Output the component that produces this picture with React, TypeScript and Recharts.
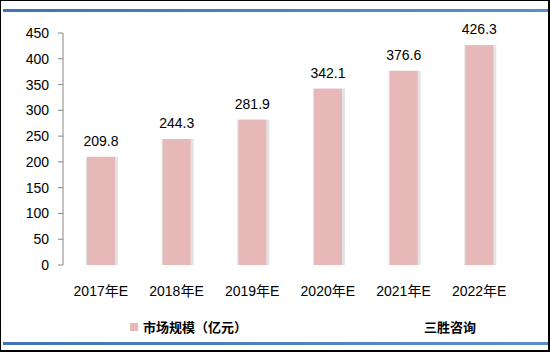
import React from 'react';
import { BarChart, Bar, XAxis, YAxis, LabelList } from 'recharts';

const categories = ['2017年E', '2018年E', '2019年E', '2020年E', '2021年E', '2022年E'];
const marketSize = [209.8, 244.3, 281.9, 342.1, 376.6, 426.3];
const yTicks = [0, 50, 100, 150, 200, 250, 300, 350, 400, 450];
const boundaryTicks = [0, 1, 2, 3, 4, 5, 6];
const seriesName = '市场规模（亿元）';
const sourceText = '三胜咨询';

const data = categories.map((c, i) => ({ name: c, value: marketSize[i] }));

const BAR_COLOR = '#E6B9B8';
const AXIS_COLOR = '#868686';
const NUM_FONT = '"Liberation Sans", "Noto Sans CJK SC", sans-serif';
const CJK_FONT = '"Noto Sans CJK SC", sans-serif';

const BarShape = (props: any) => {
  const { x, y, width, height, fill } = props;
  return (
    <g>
      <rect x={x - 1} y={y} width={width + 4} height={height} fill="#e3e3e3" />
      <rect x={x} y={y} width={width} height={height} fill={fill} />
    </g>
  );
};

export default function App() {
  return (
    <div
      style={{
        position: 'absolute',
        left: 0,
        top: 0,
        width: 550,
        height: 352,
        background: '#fff',
        boxSizing: 'border-box',
        borderTop: '1px solid #000',
        borderLeft: '1px solid #000',
        borderRight: '2px solid #000',
        borderBottom: '2px solid #000',
        overflow: 'hidden',
      }}
    >
      <div style={{ position: 'absolute', left: 0, top: -1 }}>
        <BarChart
          width={550}
          height={352}
          data={data}
          margin={{ top: 33, right: 34, left: -1, bottom: 57 }}
        >
          <XAxis
            xAxisId="grid"
            type="number"
            domain={[0, 6]}
            ticks={boundaryTicks}
            allowDataOverflow
            height={0}
            tick={false}
            tickSize={5}
            stroke={AXIS_COLOR}
            axisLine={{ stroke: AXIS_COLOR }}
            tickLine={{ stroke: AXIS_COLOR }}
          />
          <XAxis
            xAxisId="cat"
            dataKey="name"
            height={30}
            axisLine={false}
            tickLine={false}
            tickSize={0}
            tickMargin={21}
            tick={{ fill: '#000', fontSize: 14, fontFamily: NUM_FONT }}
            interval={0}
          />
          <YAxis
            domain={[0, 450]}
            ticks={yTicks}
            width={63}
            tickSize={5}
            tickMargin={9}
            stroke={AXIS_COLOR}
            tick={{ fill: '#000', fontSize: 14, fontFamily: NUM_FONT }}
            interval={0}
          />
          <Bar
            xAxisId="cat"
            dataKey="value"
            fill={BAR_COLOR}
            barSize={28}
            isAnimationActive={false}
            shape={BarShape}
          >
            <LabelList
              dataKey="value"
              position="top"
              offset={11}
              style={{ fill: '#000', fontSize: 14, fontFamily: NUM_FONT }}
            />
          </Bar>
        </BarChart>
      </div>
      {/* top blue rule */}
      <div
        style={{
          position: 'absolute',
          left: 2,
          top: 8,
          width: 545,
          height: 3,
          background: 'linear-gradient(to right, #3f74b8, #5a8fcf)',
        }}
      />
      {/* bottom blue rule */}
      <div
        style={{
          position: 'absolute',
          left: 2,
          top: 341,
          width: 545,
          height: 3,
          background: 'linear-gradient(to right, #3f74b8, #5a8fcf)',
        }}
      />
      {/* legend */}
      <div
        style={{
          position: 'absolute',
          left: 129,
          top: 316,
          display: 'flex',
          alignItems: 'center',
          fontFamily: CJK_FONT,
          fontSize: 13,
          fontWeight: 'bold',
          color: '#000',
          whiteSpace: 'nowrap',
        }}
      >
        <span style={{ display: 'inline-block', width: 8, height: 8, background: BAR_COLOR, marginRight: 5 }} />
        <span>{seriesName}</span>
      </div>
      <div
        style={{
          position: 'absolute',
          left: 423,
          top: 316,
          fontFamily: CJK_FONT,
          fontSize: 13,
          fontWeight: 'bold',
          color: '#000',
          whiteSpace: 'nowrap',
        }}
      >
        {sourceText}
      </div>
    </div>
  );
}
